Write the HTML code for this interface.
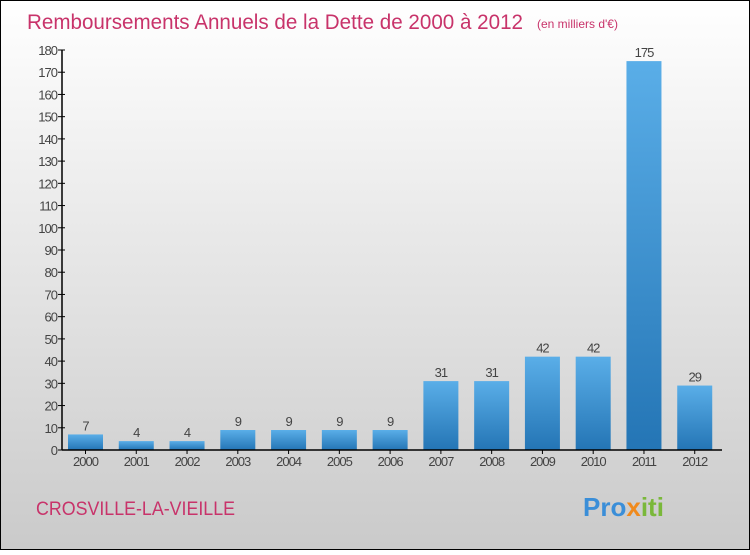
<!DOCTYPE html>
<html><head><meta charset="utf-8"><style>
body{margin:0}
#c{width:750px;height:550px;position:relative;font-family:"Liberation Sans",sans-serif}
</style></head><body>
<div id="c">
<svg width="750" height="550" id="svg">
<defs>
<linearGradient id="bg" x1="0" y1="0" x2="0" y2="1"><stop offset="0" stop-color="#ffffff"/><stop offset="1" stop-color="#cacaca"/></linearGradient>
<linearGradient id="bar" x1="0" y1="0" x2="0" y2="1"><stop offset="0" stop-color="#5aaee8"/><stop offset="1" stop-color="#2475b5"/></linearGradient>
</defs>
<rect x="0.5" y="0.5" width="749" height="549" fill="url(#bg)" stroke="#000"/>
<text x="27" y="29" font-size="21" fill="#c8336a" textLength="496" lengthAdjust="spacingAndGlyphs">Remboursements Annuels de la Dette de 2000 à 2012</text>
<text x="537" y="28" font-size="12" fill="#c8336a">(en milliers d'€)</text>
<text x="36" y="515" font-size="19" fill="#c8336a" textLength="199" lengthAdjust="spacingAndGlyphs">CROSVILLE-LA-VIEILLE</text>
<text x="583" y="516" font-size="26" font-weight="bold"><tspan fill="#3a8ed8">Pro</tspan><tspan fill="#f08a1c">x</tspan><tspan fill="#7ab83a">iti</tspan></text>
<g id="plot"></g>
</svg>
</div>
<script>
const categories=["2000","2001","2002","2003","2004","2005","2006","2007","2008","2009","2010","2011","2012"];
const values=[7,4,4,9,9,9,9,31,31,42,42,175,29];
const yTicks=[0,10,20,30,40,50,60,70,80,90,100,110,120,130,140,150,160,170,180];
const NS="http://www.w3.org/2000/svg";
const g=document.getElementById('plot');
const x0=62,x1=722,y0=450,y1=50,ymax=180;
const slot=(x1-x0)/categories.length;
const y=v=>y0-(v/ymax)*(y0-y1);
const xs=i=>x0+slot*i;
function el(t,a,txt){const e=document.createElementNS(NS,t);for(const k in a)e.setAttribute(k,a[k]);if(txt!==undefined)e.textContent=txt;g.appendChild(e);return e;}
yTicks.forEach(t=>{
 const l=el('line',{x1:x0-4,x2:x0+3,y1:y(t),y2:y(t),stroke:'#000'});
 
 
 const tx=el('text',{x:x0-5,y:y(t)+5,'text-anchor':'end','font-size':13,fill:'#444','letter-spacing':'-1'},t);
 
 
});
values.forEach((v,i)=>{
 const bx=xs(i)+6,bw=35;
 const r=el('rect',{x:bx,y:y(v),width:bw,height:y0-y(v),fill:'url(#bar)'});
 
 
 const vt=el('text',{x:bx+bw/2,y:y(v)-4,'text-anchor':'middle','font-size':13,fill:'#444','letter-spacing':'-1'},v);
 
 
 const tk=el('line',{x1:bx+bw/2,x2:bx+bw/2,y1:y0,y2:y0+4,stroke:'#000'});
 
 
 const ct=el('text',{x:bx+bw/2,y:y0+16,'text-anchor':'middle','font-size':13,fill:'#444','letter-spacing':'-1'},categories[i]);
 
 
});
const ya=el('line',{x1:x0,x2:x0,y1:y1,y2:y0,stroke:'#000','stroke-width':1.5});


const xa=el('line',{x1:x0,x2:x1,y1:y0,y2:y0,stroke:'#000','stroke-width':1.5});


</script>
</body></html>
